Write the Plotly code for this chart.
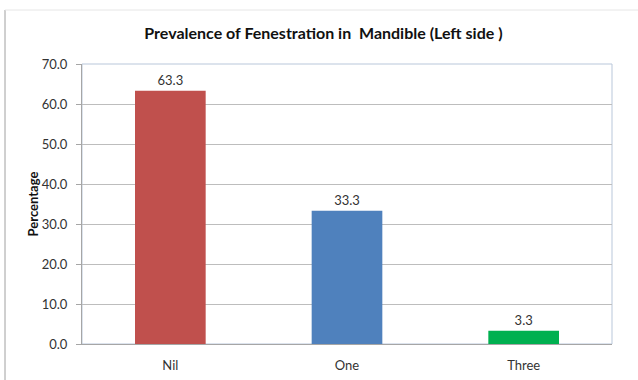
import plotly.graph_objects as go

categories = ["Nil", "One", "Three"]
percentages = [63.3, 33.3, 3.3]
bar_colors = ["#C0504D", "#4F81BD", "#00B050"]
y_ticks = [0, 10, 20, 30, 40, 50, 60, 70]

FONT = "Lato, 'Open Sans', sans-serif"

fig = go.Figure(
    go.Bar(
        x=categories,
        y=percentages,
        marker=dict(color=bar_colors, line=dict(width=0)),
        width=0.4,
        text=[f"{v:.1f}" for v in percentages],
        textposition="outside",
        textfont=dict(family=FONT, size=13, color="#333333"),
        cliponaxis=False,
    )
)

PW, PH = 638 - 82 - 26, 380 - 64 - 36  # plot-area size in px

fig.update_layout(
    width=638,
    height=380,
    margin=dict(l=82, r=26, t=64, b=36, autoexpand=False),
    paper_bgcolor="white",
    plot_bgcolor="white",
    showlegend=False,
    title=dict(
        text="<b>Prevalence of Fenestration in  Mandible (Left side )</b>",
        x=0.507,
        xanchor="center",
        y=1 - 33 / 380,
        yanchor="middle",
        font=dict(family=FONT, size=16, color="#111111"),
    ),
    xaxis=dict(
        automargin=False,
        showgrid=False,
        showline=True,
        linecolor="#A6A6A6",
        linewidth=1,
        ticks="",
        tickfont=dict(family=FONT, size=13, color="#333333"),
        ticklabelstandoff=9,
    ),
    yaxis=dict(
        automargin=False,
        range=[0, 70],
        tickvals=y_ticks,
        ticktext=[f"{v:.1f}" for v in y_ticks],
        showgrid=True,
        gridcolor="#BDBDBD",
        gridwidth=1,
        showline=True,
        linecolor="#A6A6A6",
        linewidth=1,
        ticks="outside",
        ticklen=5,
        tickcolor="#A6A6A6",
        tickfont=dict(family=FONT, size=13, color="#333333"),
        ticklabelstandoff=6,
        zeroline=False,
        title=dict(
            text="<b>Percentage</b>",
            font=dict(family=FONT, size=13, color="#111111"),
            standoff=0,
        ),
    ),
    shapes=[
        # plot-area frame
        dict(type="rect", xref="paper", yref="paper", x0=0, x1=1, y0=0, y1=1,
             line=dict(color="#B9C7DA", width=1), layer="below"),
        # outer chart border (left and top edges)
        dict(type="line", xref="paper", yref="paper",
             x0=-77 / PW, x1=-77 / PW, y0=-36 / PH, y1=(380 - 10 - 36) / PH,
             line=dict(color="#A0A0A0", width=1)),
        dict(type="line", xref="paper", yref="paper",
             x0=-77 / PW, x1=(638 - 82) / PW, y0=(380 - 10 - 36) / PH, y1=(380 - 10 - 36) / PH,
             line=dict(color="#E6E6E6", width=1)),
    ],
)

fig.write_html("out.html")
